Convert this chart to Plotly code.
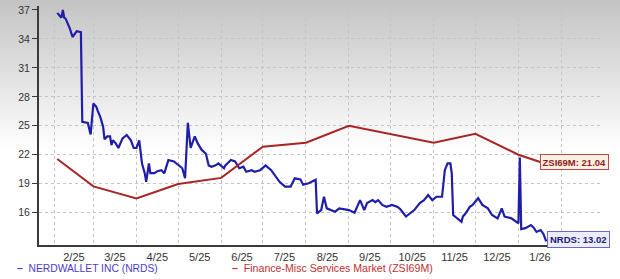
import datetime as dt
import plotly.graph_objects as go

# ---------------- data ----------------
nrds_dates = [
    "2025-02-03", "2025-02-05", "2025-02-06", "2025-02-07", "2025-02-08", "2025-02-09",
    "2025-02-12", "2025-02-14", "2025-02-16", "2025-02-17", "2025-02-20", "2025-02-21",
    "2025-02-25", "2025-02-27", "2025-03-01", "2025-03-03", "2025-03-04", "2025-03-06",
    "2025-03-08", "2025-03-09", "2025-03-11", "2025-03-13", "2025-03-14", "2025-03-15",
    "2025-03-17", "2025-03-19", "2025-03-22", "2025-03-25", "2025-03-28", "2025-03-30",
    "2025-04-01", "2025-04-03", "2025-04-05", "2025-04-07", "2025-04-08", "2025-04-10",
    "2025-04-11", "2025-04-14", "2025-04-16", "2025-04-19", "2025-04-21", "2025-04-24",
    "2025-04-28", "2025-05-01", "2025-05-04", "2025-05-06", "2025-05-08", "2025-05-10",
    "2025-05-13", "2025-05-15", "2025-05-18", "2025-05-21", "2025-05-23", "2025-05-25",
    "2025-05-28", "2025-05-30", "2025-06-01", "2025-06-03", "2025-06-04", "2025-06-08",
    "2025-06-11", "2025-06-14", "2025-06-17", "2025-06-19", "2025-06-23", "2025-06-25",
    "2025-06-29", "2025-07-03", "2025-07-07", "2025-07-10", "2025-07-13", "2025-07-17",
    "2025-07-21", "2025-07-24", "2025-07-28", "2025-07-30", "2025-08-03", "2025-08-08",
    "2025-08-09", "2025-08-12", "2025-08-14", "2025-08-16", "2025-08-19", "2025-08-22",
    "2025-08-25", "2025-08-28", "2025-09-01", "2025-09-05", "2025-09-09", "2025-09-12",
    "2025-09-14", "2025-09-18", "2025-09-20", "2025-09-22", "2025-09-25", "2025-09-28",
    "2025-10-02", "2025-10-06", "2025-10-08", "2025-10-12", "2025-10-15", "2025-10-18",
    "2025-10-22", "2025-10-25", "2025-10-28", "2025-10-31", "2025-11-03", "2025-11-07",
    "2025-11-09", "2025-11-11", "2025-11-13", "2025-11-14", "2025-11-15", "2025-11-18",
    "2025-11-21", "2025-11-22", "2025-11-24", "2025-11-27", "2025-11-29", "2025-12-03",
    "2025-12-06", "2025-12-10", "2025-12-13", "2025-12-17", "2025-12-20", "2025-12-22",
    "2025-12-27", "2025-12-31", "2026-01-01", "2026-01-02", "2026-01-03", "2026-01-06",
    "2026-01-08", "2026-01-10", "2026-01-12", "2026-01-14", "2026-01-17", "2026-01-19",
    "2026-01-21",
]
nrds_values = [
    36.7, 36.4, 36.2, 37.0, 36.2, 36.1,
    35.1, 34.2, 34.7, 34.8, 34.7, 25.4,
    25.3, 24.1, 27.3, 27.0, 26.6, 25.9,
    24.9, 23.6, 23.9, 23.9, 23.0, 23.5,
    23.2, 22.7, 23.7, 24.05, 23.5, 22.7,
    22.7, 23.5, 21.1, 20.07, 19.2, 21.1,
    20.1, 20.1, 20.3, 20.4, 20.07, 21.45,
    21.3, 20.9, 20.6, 19.56, 25.3, 22.7,
    23.9, 23.2, 22.5, 22.1, 20.9, 20.76,
    20.9, 21.1, 20.8, 20.6, 20.9, 21.45,
    21.3, 20.6, 20.76, 20.24, 20.4, 20.24,
    20.4, 20.9, 20.4, 19.73, 19.2, 18.7,
    18.7, 19.56, 19.45, 18.9, 19.04, 19.4,
    15.93, 16.27, 17.65, 16.45, 16.27, 16.1,
    16.45, 16.35, 16.27, 16.0, 17.3, 16.27,
    17.0, 17.3, 17.1, 17.3, 16.8, 16.6,
    16.8, 16.6, 16.35, 15.6, 15.93, 16.27,
    17.0, 17.3, 17.83, 17.3, 17.65, 17.65,
    20.4, 21.1, 21.1, 20.07, 15.76, 15.41,
    15.06, 15.6, 15.93, 16.6, 16.8, 17.5,
    16.8, 16.45, 15.76, 15.41, 16.45, 15.6,
    15.41, 15.0, 14.9, 21.7, 14.3, 14.4,
    14.6, 14.72, 14.45, 14.0, 14.2, 13.8,
    13.02,
]

zsi_dates = [
    "2025-02-03", "2025-03-01", "2025-04-01", "2025-05-01", "2025-06-01", "2025-07-01",
    "2025-08-01", "2025-09-01", "2025-11-01", "2025-12-01", "2026-01-01", "2026-01-21",
]
zsi_values = [21.56, 18.72, 17.48, 18.97, 19.6, 22.83, 23.24, 25.0, 23.24, 24.17, 22.0, 21.04]

month_starts = [
    "2025-02-01", "2025-03-01", "2025-04-01", "2025-05-01", "2025-06-01", "2025-07-01",
    "2025-08-01", "2025-09-01", "2025-10-01", "2025-11-01", "2025-12-01", "2026-01-01",
    "2026-02-01",
]
tick_labels = ["2/25", "3/25", "4/25", "5/25", "6/25", "7/25", "8/25", "9/25",
               "10/25", "11/25", "12/25", "1/26"]
y_ticks = [16, 19, 22, 25, 28, 31, 34, 37]

nrds_name = "NERDWALLET INC (NRDS)"
zsi_name = "Finance-Misc Services Market (ZSI69M)"
nrds_tag = "NRDS: 13.02"
zsi_tag = "ZSI69M: 21.04"

# ---------------- styling ----------------
BLUE = "#1e1eaa"
RED = "#aa2424"
FONT = "Liberation Sans"
W, H = 620, 279
ML, MR, MT, MB = 39, 18, 6, 34
PW = W - ML - MR
PH = H - MT - MB

# month-centred tick positions (labels sit in the middle of each month)
ms = [dt.datetime.fromisoformat(d) for d in month_starts]
mid_ticks = [(ms[i] + (ms[i + 1] - ms[i]) / 2).strftime("%Y-%m-%d %H:%M")
             for i in range(len(ms) - 1)]

# x range: Feb 1 2025 at ~15.5 px, Feb 1 2026 at ~522.5 px from the left plot edge
px_a, px_b = 15.5, 522.5
per_px = (ms[-1] - ms[0]) / (px_b - px_a)
x_lo = (ms[0] - per_px * px_a).strftime("%Y-%m-%d %H:%M")
x_hi = (ms[0] + per_px * (PW - px_a)).strftime("%Y-%m-%d %H:%M")

fig = go.Figure()
fig.add_trace(go.Scatter(x=nrds_dates, y=nrds_values, mode="lines", name=nrds_name,
                         line=dict(color=BLUE, width=2.2), showlegend=False))
fig.add_trace(go.Scatter(x=zsi_dates, y=zsi_values, mode="lines", name=zsi_name,
                         line=dict(color=RED, width=2), showlegend=False))

# gradient background (grey at top fading to white)
shapes = []
n = 80
for i in range(n):
    y0px = i * 2
    y1px = y0px + 2
    t = min(1.0, (y0px + 1) / 150.0)
    c = int(196 + (255 - 196) * t)
    shapes.append(dict(type="rect", xref="paper", yref="paper", layer="below",
                       x0=-ML / PW - 0.01, x1=1 + MR / PW + 0.01,
                       y0=(MT + PH - y1px) / PH, y1=(MT + PH - y0px) / PH,
                       fillcolor=f"rgb({c},{c},{c})", line=dict(width=0)))

LEG_Y = 268
annotations = [
    # legend-like labels
    dict(xref="paper", yref="paper", x=(15 - ML) / PW, y=-(LEG_Y - MT - PH) / PH,
         xanchor="left", yanchor="middle", showarrow=False,
         text="<b>\u2013</b>\u00a0\u00a0" + nrds_name,
         font=dict(family=FONT, size=10.3, color="#4b3cc8")),
    dict(xref="paper", yref="paper", x=(230 - ML) / PW, y=-(LEG_Y - MT - PH) / PH,
         xanchor="left", yanchor="middle", showarrow=False,
         text="<b>\u2013</b>\u00a0\u00a0" + zsi_name,
         font=dict(family=FONT, size=10.6, color="#c03030")),
    # end-of-line value tags
    dict(x=zsi_dates[-1], y=zsi_values[-1], xref="x", yref="y", xanchor="left",
         yanchor="middle", xshift=-6, yshift=2, showarrow=False, text="<b>" + zsi_tag + "</b>",
         font=dict(family=FONT, size=9.5, color="#902020"),
         bgcolor="#fdf1e4", bordercolor="#c04a4a", borderwidth=1, borderpad=1.5),
    dict(x=nrds_dates[-1], y=nrds_values[-1], xref="x", yref="y", xanchor="left",
         yanchor="middle", xshift=1, yshift=2, showarrow=False, text="<b>" + nrds_tag + "</b>",
         font=dict(family=FONT, size=9.5, color="#202078"),
         bgcolor="#ececfa", bordercolor="#6a6ac8", borderwidth=1, borderpad=2),
]

fig.update_layout(
    width=W, height=H,
    margin=dict(l=ML, r=MR, t=MT, b=MB, pad=0),
    paper_bgcolor="white", plot_bgcolor="rgba(0,0,0,0)",
    shapes=shapes, annotations=annotations, showlegend=False,
    font=dict(family=FONT, color="#333333"),
    xaxis=dict(
        type="date", range=[x_lo, x_hi], automargin=False,
        tickmode="array", tickvals=mid_ticks, ticktext=tick_labels,
        tickfont=dict(family=FONT, size=11, color="#333333"),
        ticks="outside", ticklen=1, tickcolor="rgba(0,0,0,0)",
        showgrid=False, zeroline=False,
        showline=True, linecolor="#3a3a3a", linewidth=2,
        minor=dict(tickmode="array", tickvals=month_starts, showgrid=True,
                   gridcolor="#c4c4c4", griddash="dot", gridwidth=1, ticks=""),
    ),
    yaxis=dict(
        range=[12.65, 37.41], automargin=False,
        tickmode="array", tickvals=y_ticks,
        tickfont=dict(family=FONT, size=10.5, color="#333333"),
        ticks="outside", ticklen=5, tickcolor="#3a3a3a", tickwidth=1,
        showgrid=True, gridcolor="#c4c4c4", griddash="dot", gridwidth=1,
        zeroline=False, showline=True, linecolor="#3a3a3a", linewidth=2,
    ),
)

fig.write_html("out.html")
